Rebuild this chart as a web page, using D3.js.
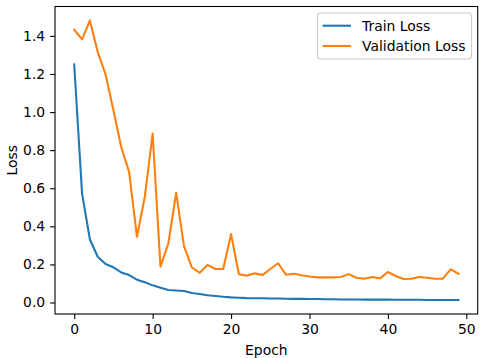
<!DOCTYPE html>
<html>
<head>
<meta charset="utf-8">
<script src="https://cdn.jsdelivr.net/npm/d3@7"></script>
<style>
  body { margin: 0; background: #fff; }
  svg text { font-family: "DejaVu Sans", sans-serif; fill: #000; }
</style>
</head>
<body>
<div id="chart"></div>
<script>
// values
var trainLoss = [1.25, 0.573, 0.331, 0.24, 0.202, 0.185, 0.158, 0.144, 0.12, 0.106,
  0.09, 0.078, 0.066, 0.063, 0.06, 0.05, 0.045, 0.038, 0.034, 0.03,
  0.027, 0.025, 0.023, 0.022, 0.022, 0.021, 0.021, 0.02, 0.019, 0.019,
  0.018, 0.018, 0.017, 0.017, 0.016, 0.016, 0.016, 0.015, 0.015, 0.015,
  0.015, 0.014, 0.014, 0.014, 0.014, 0.013, 0.013, 0.013, 0.013, 0.013];
var valLoss = [1.433, 1.382, 1.481, 1.315, 1.198, 1.01, 0.815, 0.686, 0.345, 0.555,
  0.887, 0.188, 0.31, 0.576, 0.296, 0.185, 0.156, 0.197, 0.176, 0.176,
  0.359, 0.148, 0.141, 0.153, 0.144, 0.176, 0.206, 0.146, 0.151, 0.143,
  0.137, 0.132, 0.132, 0.132, 0.134, 0.149, 0.13, 0.125, 0.134, 0.127,
  0.16, 0.139, 0.123, 0.125, 0.134, 0.13, 0.125, 0.125, 0.174, 0.151];
var xTicks = [0, 10, 20, 30, 40, 50];
var yTicks = [0.0, 0.2, 0.4, 0.6, 0.8, 1.0, 1.2, 1.4];
var seriesNames = ["Train Loss", "Validation Loss"];
var seriesColors = ["#1f77b4", "#ff7f0e"];

var svgWidth = 486, svgHeight = 358;
var margin = { top: 6.5, right: 8.3, bottom: 44, left: 55 };
var width = svgWidth - margin.left - margin.right;
var height = svgHeight - margin.top - margin.bottom;

var svg = d3.select("#chart").append("svg")
  .attr("width", svgWidth)
  .attr("height", svgHeight);

var chartGroup = svg.append("g")
  .attr("transform", `translate(${margin.left}, ${margin.top})`);

var n = trainLoss.length;
var xPad = (n - 1) * 0.05;
var xScale = d3.scaleLinear()
  .domain([-xPad, n - 1 + xPad])
  .range([0, width]);

var allVals = trainLoss.concat(valLoss);
var yMin = d3.min(allVals), yMax = d3.max(allVals);
var yPad = (yMax - yMin) * 0.05;
var yScale = d3.scaleLinear()
  .domain([yMin - yPad, yMax + yPad])
  .range([height, 0]);

var fontSize = "13.9px";

// axes
var bottomAxis = d3.axisBottom(xScale).tickValues(xTicks).tickSize(4.9).tickPadding(4.9)
  .tickFormat(d3.format("d"));
var leftAxis = d3.axisLeft(yScale).tickValues(yTicks).tickSize(4.9).tickPadding(4.9)
  .tickFormat(d3.format(".1f"));

var gx = chartGroup.append("g")
  .attr("transform", `translate(0, ${height})`)
  .call(bottomAxis);
var gy = chartGroup.append("g").call(leftAxis);

[gx, gy].forEach(function(g) {
  g.select(".domain").remove();
  g.selectAll(".tick line").attr("stroke", "#000").attr("stroke-width", 1.1);
  g.selectAll(".tick text").style("font-size", fontSize).attr("fill", "#000");
});

// lines
var line = d3.line()
  .x(function(d, i) { return xScale(i); })
  .y(function(d) { return yScale(d); });

[trainLoss, valLoss].forEach(function(series, k) {
  chartGroup.append("path")
    .datum(series)
    .attr("fill", "none")
    .attr("stroke", seriesColors[k])
    .attr("stroke-width", 2.08)
    .attr("stroke-linejoin", "round")
    .attr("stroke-linecap", "square")
    .attr("d", line);
});

// frame
chartGroup.append("rect")
  .attr("width", width)
  .attr("height", height)
  .attr("fill", "none")
  .attr("stroke", "#000")
  .attr("stroke-width", 1.1);

// axis labels
chartGroup.append("text")
  .attr("x", width / 2)
  .attr("y", height + 41)
  .attr("text-anchor", "middle")
  .style("font-size", fontSize)
  .text("Epoch");

chartGroup.append("text")
  .attr("transform", "rotate(-90)")
  .attr("x", -height / 2)
  .attr("y", -38)
  .attr("text-anchor", "middle")
  .style("font-size", fontSize)
  .text("Loss");

// legend
var legend = svg.append("g").attr("transform", "translate(317.5, 13)");
legend.append("rect")
  .attr("width", 154)
  .attr("height", 46)
  .attr("rx", 3)
  .attr("fill", "#fff")
  .attr("fill-opacity", 0.8)
  .attr("stroke", "#cccccc")
  .attr("stroke-width", 1.1);

seriesNames.forEach(function(name, k) {
  var yy = 12.7 + k * 20.3;
  legend.append("line")
    .attr("x1", 5).attr("x2", 33.5)
    .attr("y1", yy).attr("y2", yy)
    .attr("stroke", seriesColors[k])
    .attr("stroke-width", 2.08);
  legend.append("text")
    .attr("x", 44.5)
    .attr("y", yy)
    .attr("dy", "0.35em")
    .style("font-size", fontSize)
    .text(name);
});
</script>
</body>
</html>
